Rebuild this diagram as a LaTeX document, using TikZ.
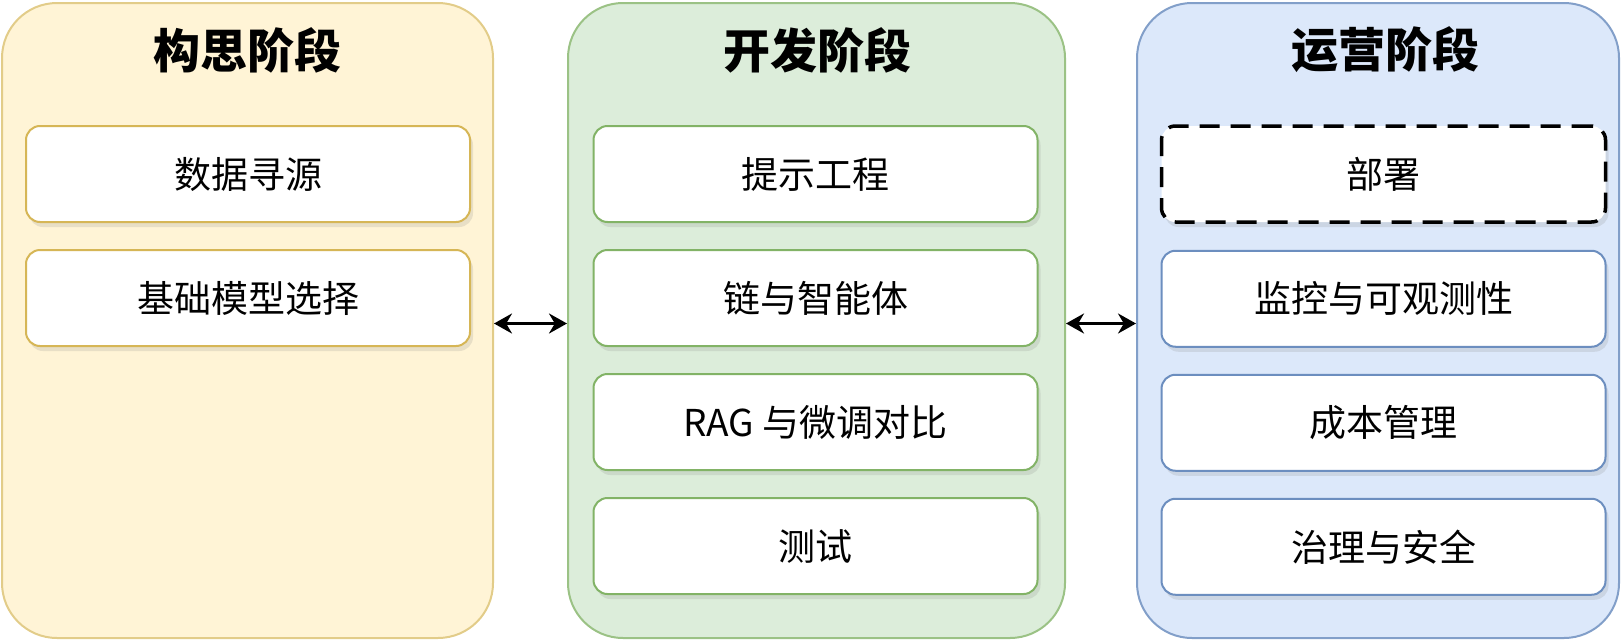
\documentclass[tikz,border=0pt]{standalone}
\usepackage{fontspec}
\setmainfont{Noto Sans CJK SC}
\usetikzlibrary{positioning,shadows,arrows.meta}
\definecolor{ideaFill}{HTML}{FFF4D6}
\definecolor{ideaLine}{HTML}{D6B656}
\definecolor{devFill}{HTML}{DCEDDA}
\definecolor{devLine}{HTML}{82B366}
\definecolor{opsFill}{HTML}{DCE8FA}
\definecolor{opsLine}{HTML}{6C8EBF}

\begin{document}
\begin{tikzpicture}[
        x=1pt, y=-1pt,
        panel/.style={
                draw,
                line width=2pt,
                rounded corners=55pt,
                minimum height=635pt
            },
        phasetitle/.style={
                font=\fontsize{47}{56}\selectfont\bfseries
            },
        task/.style={
                draw,
                fill=white,
                line width=2pt,
                rounded corners=14pt,
                minimum width=444pt,
                minimum height=96pt,
                font=\fontsize{37}{44}\selectfont,
                drop shadow={opacity=0.18, shadow xshift=3pt, shadow yshift=-5pt}
            },
        link/.style={
                {Stealth[length=18pt,width=20pt]}-{Stealth[length=18pt,width=20pt]},
                line width=3pt
            }
    ]

    \useasboundingbox (0,0) rectangle (1621,640);

    % ---- Phases ----
    \node[panel, fill=ideaFill, draw=ideaLine!70!white, minimum width=491pt] (idea) at (247.5,320.5) {};
    \node[panel, fill=devFill, draw=devLine!80!white, minimum width=497pt] (dev) at (816.5,320.5) {};
    \node[panel, fill=opsFill, draw=opsLine!85!white, minimum width=482pt] (ops) at (1378,320.5) {};

    \node[phasetitle] (ideaTitle) at (247.5,50) {构思阶段};
    \node[phasetitle] (devTitle) at (817,50) {开发阶段};
    \node[phasetitle] (opsTitle) at (1385,50) {运营阶段};

    % ---- Ideation ----
    \node[task, draw=ideaLine] (source) at (248,174) {数据寻源};
    \node[task, draw=ideaLine, below=26pt of source] (model) {基础模型选择};

    % ---- Development ----
    \node[task, draw=devLine] (prompt) at (815.5,174) {提示工程};
    \node[task, draw=devLine, below=26pt of prompt] (agent) {链与智能体};
    \node[task, draw=devLine, below=26pt of agent] (rag) {RAG 与微调对比};
    \node[task, draw=devLine, below=26pt of rag] (test) {测试};

    % ---- Operation ----
    \node[task, draw=black, line width=3.5pt, dash pattern=on 20pt off 11pt] (deploy) at (1383.5,174) {部署};
    \node[task, draw=opsLine, below=26pt of deploy] (monitor) {监控与可观测性};
    \node[task, draw=opsLine, below=26pt of monitor] (cost) {成本管理};
    \node[task, draw=opsLine, below=26pt of cost] (govern) {治理与安全};

    % ---- Links between phases ----
    \draw[link] ([yshift=-3pt]idea.east) -- ([yshift=-3pt]dev.west);
    \draw[link] ([yshift=-3pt]dev.east) -- ([yshift=-3pt]ops.west);
\end{tikzpicture}
\end{document}
